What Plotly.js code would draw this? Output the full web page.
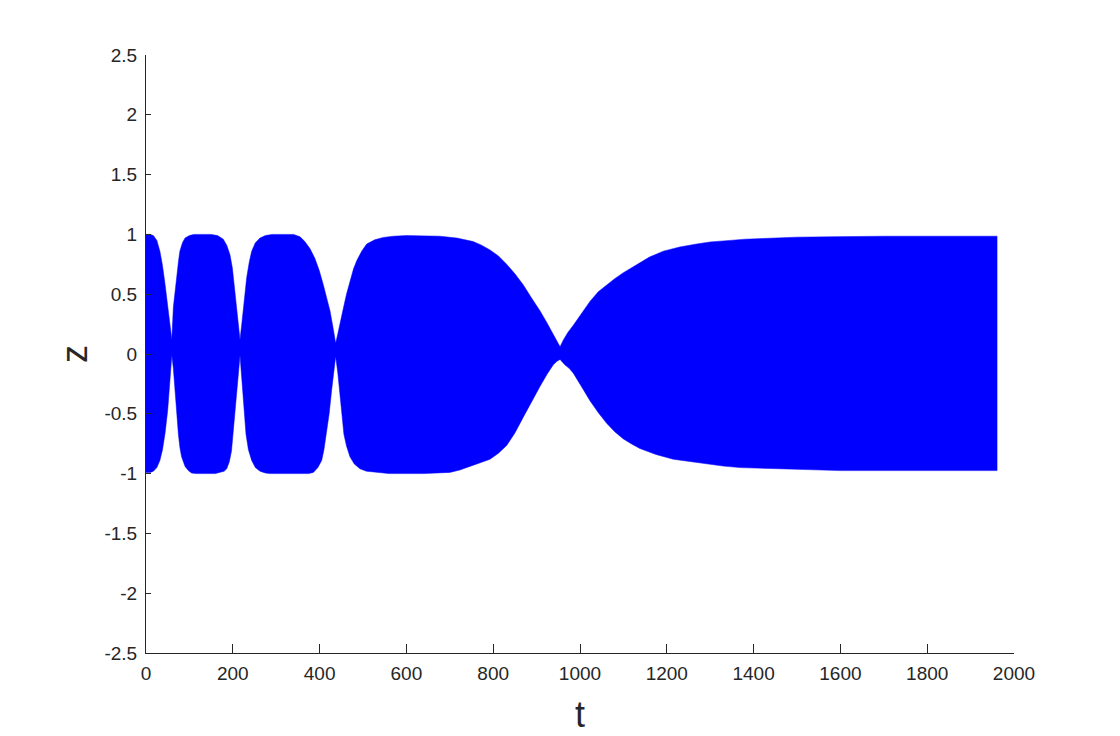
<!DOCTYPE html>
<html>
<head>
<meta charset="utf-8">
<script src="https://cdn.plot.ly/plotly-3.0.1.min.js"></script>
<style>html,body{margin:0;padding:0;background:#fff;}#chart{width:1120px;height:736px;}</style>
</head>
<body>
<div id="chart"></div>
<script>
// Upper envelope of the oscillation z(t)
const tUpper = [0,10,17,25,32,38,44,50,55,59.5,
  63,67,71,75,78,84,90,100,110,150,165,178,186,193.5,199,203.5,208,212.7,216.6,
  220.4,226,232,238,243.5,252,262.7,275,290,340,355,366,378,389,399,408.5,416,424,431,437,
  442,448,454.6,462,470,478,485.5,497,508.5,527,547,570,600,640,677,716,754,773,792.6,812,831,850,869,888,908,924,938.5,947,954,
  962,972,984.6,1003,1023,1042,1061.5,1080,1100,1120,1140,1160,1192,1230,1269,1300,1345.6,1380,1422,1460,1499,1576,1700,1961];
const zUpper = [1.0,1.0,0.99,0.95,0.86,0.74,0.58,0.42,0.28,0.12,
  0.39,0.54,0.66,0.78,0.86,0.93,0.97,0.99,1.0,1.0,0.99,0.96,0.91,0.83,0.72,0.58,0.42,0.24,0.12,
  0.24,0.45,0.64,0.77,0.86,0.93,0.97,0.99,1.0,1.0,0.98,0.94,0.88,0.80,0.70,0.58,0.47,0.36,0.22,0.09,
  0.17,0.28,0.38,0.50,0.61,0.71,0.78,0.86,0.92,0.955,0.975,0.985,0.99,0.99,0.985,0.97,0.94,0.91,0.87,0.82,0.75,0.67,0.58,0.47,0.36,0.26,0.16,0.10,0.06,
  0.12,0.18,0.24,0.34,0.44,0.52,0.58,0.63,0.68,0.725,0.77,0.81,0.86,0.895,0.92,0.937,0.95,0.96,0.966,0.972,0.977,0.98,0.985,0.985];
// Lower envelope
const tLower = [0,10,17,25,32,38,44,50,55,59.5,
  63,67,71,74.6,78,82,90,97.5,105,115,160,172,180,186,192,197,201,205,208,211,214,216.6,
  219.5,222.7,226.5,230.4,236,243.5,252,262.7,275,285,375,385.6,396,404.8,410,416,422,427.8,432,437,
  442,447,451.5,456,462,470,480,493,508,523.7,560,640,677,700,723,754,792.6,812,831,850,869,888,908,924,938.5,947,954,
  965,975,984.6,1003,1023,1042,1061.5,1080,1100,1120,1138,1175,1215,1250,1292,1330,1368.7,1445,1522,1599,1961];
const zLower = [-0.99,-0.99,-0.98,-0.95,-0.89,-0.80,-0.66,-0.47,-0.25,-0.01,
  -0.12,-0.25,-0.47,-0.67,-0.78,-0.86,-0.94,-0.975,-0.995,-1.0,-1.0,-0.99,-0.98,-0.96,-0.90,-0.81,-0.68,-0.53,-0.39,-0.25,-0.12,-0.01,
  -0.12,-0.25,-0.47,-0.67,-0.80,-0.89,-0.95,-0.98,-0.995,-1.0,-1.0,-0.99,-0.95,-0.89,-0.80,-0.67,-0.50,-0.30,-0.16,-0.02,
  -0.16,-0.30,-0.49,-0.67,-0.77,-0.86,-0.92,-0.96,-0.98,-0.99,-1.0,-1.0,-0.995,-0.99,-0.97,-0.93,-0.88,-0.83,-0.765,-0.66,-0.53,-0.40,-0.27,-0.17,-0.09,-0.06,-0.045,
  -0.09,-0.12,-0.16,-0.27,-0.39,-0.49,-0.58,-0.65,-0.71,-0.755,-0.79,-0.84,-0.88,-0.90,-0.92,-0.937,-0.95,-0.96,-0.966,-0.975,-0.975];
const xTicks = [0,200,400,600,800,1000,1200,1400,1600,1800,2000];
const yTicks = [-2.5,-2,-1.5,-1,-0.5,0,0.5,1,1.5,2,2.5];
const yTickText = ['-2.5','-2','-1.5','-1','-0.5','0','0.5','1','1.5','2','2.5'];

const polyX = tUpper.concat(tLower.slice().reverse());
const polyY = zUpper.concat(zLower.slice().reverse());

const ink = '#262626';
const fam = 'Liberation Sans, Arial, sans-serif';
const tickFont = {family: fam, size: 19, color: ink};

const data = [{
  x: polyX, y: polyY, type: 'scatter', mode: 'lines',
  fill: 'toself', fillcolor: 'rgb(0,0,255)',
  line: {color: 'rgb(0,0,255)', width: 0.5},
  hoverinfo: 'skip', showlegend: false
}];

const layout = {
  width: 1120, height: 736,
  margin: {l: 146, r: 106, t: 55, b: 83, pad: 0},
  paper_bgcolor: '#fff', plot_bgcolor: '#fff',
  showlegend: false,
  xaxis: {
    range: [0, 2000], tickvals: xTicks, ticktext: xTicks.map(String),
    showgrid: false, zeroline: false, showline: true, linecolor: ink, linewidth: 1,
    ticks: 'inside', ticklen: 9, tickcolor: ink, tickwidth: 1,
    tickfont: tickFont, mirror: false, ticklabelstandoff: 3,
    title: {text: 't', font: {family: fam, size: 36, color: ink}, standoff: 19},
    automargin: false
  },
  yaxis: {
    range: [-2.5, 2.5], tickvals: yTicks, ticktext: yTickText,
    showgrid: false, zeroline: false, showline: true, linecolor: ink, linewidth: 1,
    ticks: 'inside', ticklen: 5, tickcolor: ink, tickwidth: 1,
    tickfont: tickFont, mirror: false, ticklabelstandoff: 4,
    title: {text: 'z', font: {family: fam, size: 36, color: ink}, standoff: 5},
    automargin: false
  }
};

Plotly.newPlot('chart', data, layout, {staticPlot: true, displayModeBar: false});
</script>
</body>
</html>
